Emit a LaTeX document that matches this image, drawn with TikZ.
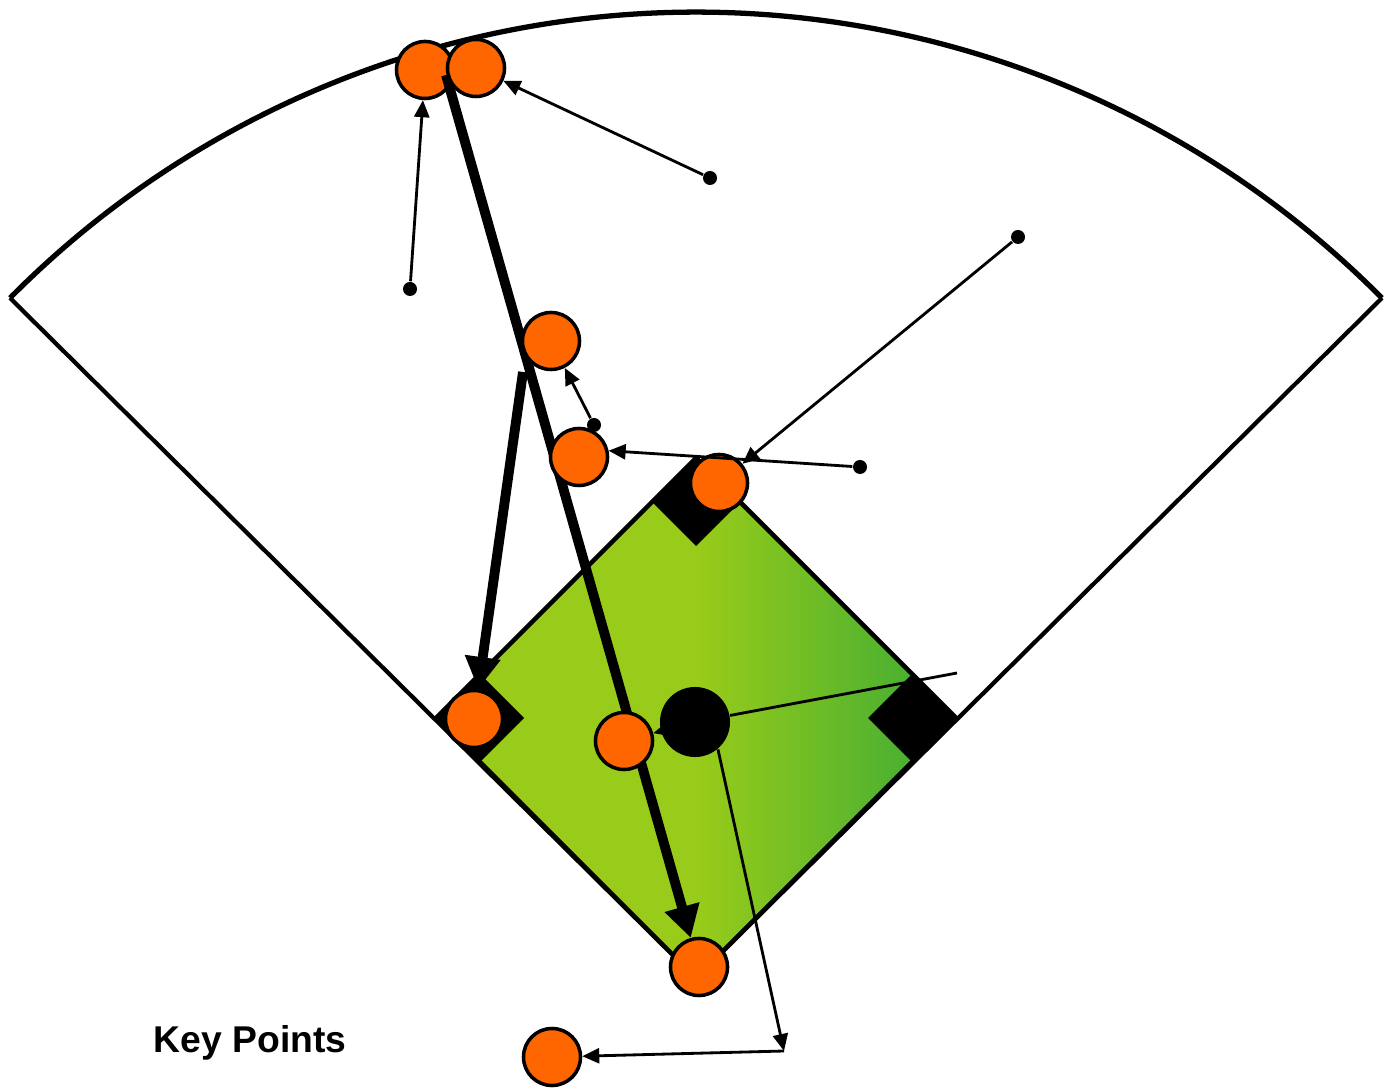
\documentclass[tikz,border=0pt]{standalone}
\usepackage{fontspec}
\setsansfont{Liberation Sans}
\usetikzlibrary{arrows.meta}
\definecolor{corange}{HTML}{FF6600}
\definecolor{cgrass}{HTML}{99CC1A}
\definecolor{cgrassdark}{HTML}{3AAA35}
\pgfdeclarehorizontalshading{infield}{100bp}{color(0bp)=(cgrass); color(50bp)=(cgrass); color(75bp)=(cgrassdark); color(100bp)=(cgrassdark)}
\tikzset{
  player/.style={circle, draw=black, line width=1pt, fill=corange, minimum size=0.57cm, inner sep=0pt},
  ball/.style={circle, fill=black, minimum size=0.7cm, inner sep=0pt},
  spot/.style={circle, fill=black, minimum size=0.14cm, inner sep=0pt},
  pass/.style={-{Triangle[length=0.17cm, width=0.15cm]}, line width=0.8pt},
  run/.style={-{Triangle[length=0.32cm, width=0.34cm]}, line width=2.8pt},
  wall/.style={line width=1.5pt},
  foul/.style={line width=1.2pt},
}

\begin{document}
\begin{tikzpicture}[x=0.01cm, y=-0.01cm]
  \useasboundingbox (0,0) rectangle (1385,1089);
  % field and infield
  \draw[wall] (10,298) arc[start angle=-135.25, end angle=-44.75, radius=965.9];
  \draw[foul] (10,298) -- (696,978) -- (1382,298);
  \shadedraw[shading=infield, draw=black, line width=1.3pt] (696,978) -- (436,718) -- (696,458) -- (956,718) -- cycle;
  \foreach \bx/\by in {480/718, 696/502, 912/718}
    \fill (\bx-44,\by) -- (\bx,\by-44) -- (\bx+44,\by) -- (\bx,\by+44) -- cycle;
  % players under the runs
  \node[player] (c1) at (425,70) {};
  \node[player] (c6) at (474,719) {};
  \node[player] (c8) at (699,967) {};
  \coordinate (t1a) at (446,75);
  \coordinate (t2a) at (523,372);
  \draw[run] (t1a) -- (c8);
  \draw[run] (t2a) -- (c6);
  % players over the runs
  \node[player] (c2) at (476,68) {};
  \node[player] (c3) at (551,341) {};
  \node[player] (c4) at (579,457) {};
  \node[player] (c5) at (719,483) {};
  \node[player] (c7) at (624,741) {};
  \node[player] (c9) at (552,1057) {};
  \node[ball] (bc) at (695,722) {};
  \node[spot] (d1) at (710,178) {};
  \node[spot] (d2) at (410,289) {};
  \node[spot] (d3) at (1018,237) {};
  \node[spot] (d4) at (594,425) {};
  \node[spot] (d5) at (860,467) {};
  \coordinate (hit) at (957,673);
  \coordinate (turn) at (784,1051);
  % passes
  \draw[pass] (d1) -- (c2);
  \draw[pass] (d2) -- (c1);
  \draw[pass] (d3) -- (c5);
  \draw[pass] (d4) -- (c3);
  \draw[pass] (d5) -- (c4.12);
  \draw[pass] (bc) -- (c7);
  \draw[line width=0.8pt] (bc) -- (hit);
  \draw[pass] (bc.-50) -- (turn);
  \draw[pass] (turn) -- (c9);
  \node[font=\sffamily\bfseries\fontsize{10.6pt}{12pt}\selectfont] (key) at (250,1043) {Key Points};
\end{tikzpicture}
\end{document}
